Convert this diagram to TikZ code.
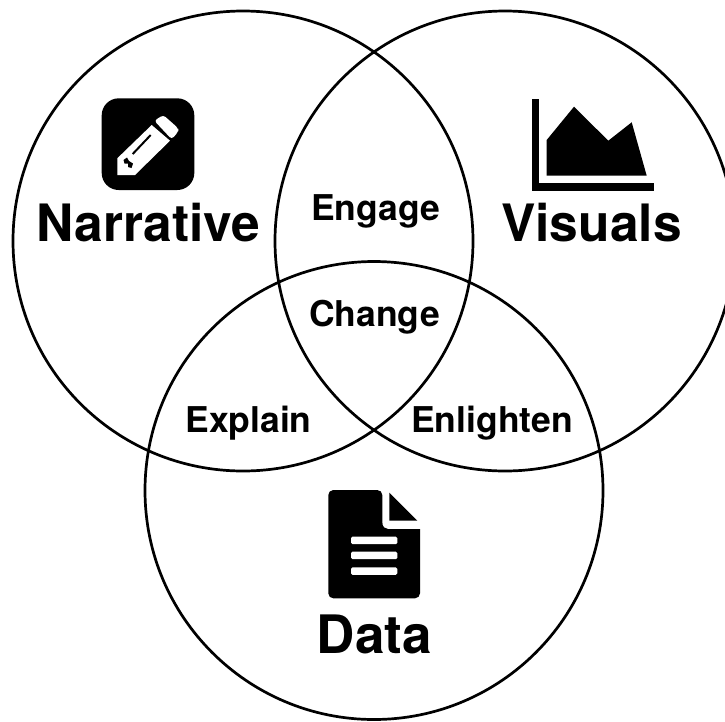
\documentclass[tikz,border=0pt]{standalone}
\usepackage{fontspec}
\setmainfont{TeX Gyre Heros}
\tikzset{
  venn/.style={draw=black,line width=2.7pt,circle,minimum size=#1,inner sep=0pt},
  big/.style={font=\fontsize{51.5}{52}\bfseries\selectfont,inner sep=0pt,anchor=base},
  small/.style={font=\fontsize{35.5}{36}\bfseries\selectfont,inner sep=0pt,anchor=base},
}
\begin{document}
\begin{tikzpicture}[x=1pt,y=-1pt]
\useasboundingbox (0,0) rectangle (725,721);
\fill[white] (0,0) rectangle (725,721);
\begin{scope}
\clip (0,0) rectangle (725,721);
% circles
\node[venn=460pt] (narr) at (243,241) {};
\node[venn=460pt] (vis) at (505,241) {};
\node[venn=458pt] (data) at (374,490.5) {};
\end{scope}
% labels
\node[big] (tn) at (148.5,241) {Narrative};
\node[big] (tv) at (591.5,241) {Visuals};
\node[big,font=\fontsize{53}{54}\bfseries\selectfont] (td) at (374.5,653) {Data};
\node[small] (te) at (375.5,220) {Engage};
\node[small] (tc) at (374.5,326) {Change};
\node[small] (tx) at (248.5,432) {Explain};
\node[small] (tl) at (492,432) {Enlighten};
% pencil icon
\fill[black,rounded corners=17pt] (101.7,98.3) rectangle (194.3,190);
\fill[white] (117.3,175) -- (117.3,158.3) -- (151.7,125) -- (170,140.7) -- (135,175) -- cycle;
\fill[white,rounded corners=3pt] (154.3,120.7) -- (163.3,115) -- (178.3,128.3) -- (178.3,131.7) -- (171.7,139.3) -- cycle;
\draw[black,line width=2pt] (132.7,154) -- (150.7,135);
\fill[black] (123.5,160) -- (127,157.5) -- (129,161) -- (133,163.5) -- (131.5,168) -- (128,167) -- (128,163.5) -- (124.5,163.5) -- cycle;
% chart icon
\fill[black] (531.7,99) rectangle (539.3,190.7);
\fill[black] (531.7,183.3) rectangle (654.3,190.7);
\fill[black] (546.7,175.7) -- (546.7,140) -- (574,106.7) -- (608.3,140.7) -- (631.7,122.3) -- (646.7,175.7) -- cycle;
% document icon
\fill[black,rounded corners=5pt] (328.3,490) -- (382.3,490) -- (382.3,520) [sharp corners] -- (382.3,522) .. controls (382.3,527) and (385,529) .. (388,529) -- (420,529) [rounded corners=5pt] -- (420,598.3) -- (328.3,598.3) -- cycle;
\fill[black] (389.3,492.7) -- (417.3,520.7) -- (389.3,520.7) -- cycle;
\foreach \yy in {536.7,551.7,567.3}
  \fill[white,rounded corners=1.5pt] (351,\yy) rectangle (397.3,\yy+7.5);
\end{tikzpicture}
\end{document}
